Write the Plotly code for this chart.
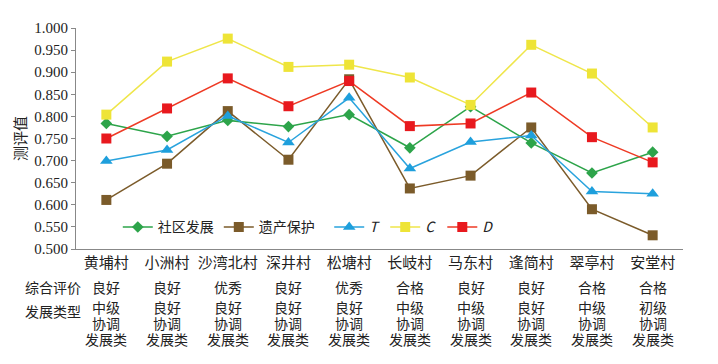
import plotly.graph_objects as go

villages = ["黄埔村", "小洲村", "沙湾北村", "深井村", "松塘村", "长岐村", "马东村", "逢简村", "翠亭村", "安堂村"]
community = [0.784, 0.755, 0.791, 0.777, 0.804, 0.729, 0.822, 0.740, 0.672, 0.719]
heritage = [0.611, 0.693, 0.812, 0.702, 0.884, 0.637, 0.666, 0.775, 0.590, 0.531]
T_vals = [0.699, 0.724, 0.801, 0.741, 0.842, 0.682, 0.742, 0.757, 0.630, 0.625]
C_vals = [0.804, 0.924, 0.976, 0.912, 0.917, 0.888, 0.826, 0.962, 0.897, 0.775]
D_vals = [0.750, 0.818, 0.886, 0.823, 0.880, 0.778, 0.784, 0.854, 0.753, 0.696]
overall = ["良好", "良好", "优秀", "良好", "优秀", "合格", "良好", "良好", "合格", "合格"]
dev_level = ["中级", "良好", "良好", "良好", "良好", "中级", "中级", "良好", "中级", "初级"]
dev_mid = ["协调"] * 10
dev_tail = ["发展类"] * 10
row_headers = ["综合评价", "发展类型"]
y_ticks = [0.5 + 0.05 * i for i in range(11)]

SERIF = "'Liberation Serif', 'Times New Roman', serif"
CJK = "'Noto Sans CJK SC', sans-serif"
TIGHT = "'Liberation Serif', 'Noto Sans CJK SC', serif"
NB = "\u00a0"

series = [
    ("社区发展", community, "#2DA44A", "#2DA44A", "diamond", 9),
    ("遗产保护" + NB * 3, heritage, "#7B5B2A", "#7B5B2A", "square", 10),
    ("<i>T</i>", T_vals, "#29A3DD", "#1E9FDC", "triangle-up", 11),
    ("<i>C</i>" + NB, C_vals, "#EFE64A", "#EEE437", "square", 10),
    ("<i>D</i>", D_vals, "#EE3A24", "#E8191E", "square", 10),
]

# page body has an 8px offset; plot area target: x 73..683, y 24..249
OFF = 8
PL, PR, PT, PB = 73, 683, 24, 249
W, H = 718 - OFF, 364 - OFF

fig = go.Figure()
for name, vals, lc, mc, sym, sz in series:
    fig.add_trace(go.Scatter(
        x=villages, y=vals, name=name, mode="lines+markers",
        line=dict(color=lc, width=1.5),
        marker=dict(symbol=sym, size=sz, color=mc, line=dict(width=0)),
        cliponaxis=False,
    ))

annotations = []
for v, t in zip(villages, overall):
    annotations.append(dict(
        x=v, xref="x", y=0, yref="paper", yshift=-(287 - PB),
        text=t, showarrow=False, yanchor="middle", xanchor="center",
        font=dict(family=CJK, size=14, color="#222"),
    ))
for py, labels in [(308, dev_level), (324, dev_mid), (340, dev_tail)]:
    for v, t in zip(villages, labels):
        annotations.append(dict(
            x=v, xref="x", y=0, yref="paper", yshift=-(py - PB),
            text=t, showarrow=False, yanchor="middle", xanchor="center",
            font=dict(family=TIGHT, size=14, color="#222"),
        ))
for py, t in zip([287, 311], row_headers):
    annotations.append(dict(
        x=(50 - PL) / (PR - PL), xref="paper", y=0, yref="paper",
        yshift=-(py - PB), text=t, showarrow=False,
        yanchor="middle", xanchor="center",
        font=dict(family=CJK, size=14, color="#222"),
    ))

fig.update_layout(
    width=W, height=H,
    margin=dict(l=PL - OFF, r=718 - PR, t=PT - OFF, b=364 - PB),
    paper_bgcolor="white", plot_bgcolor="white",
    showlegend=True,
    legend=dict(
        orientation="h", x=(115 - PL) / (PR - PL), y=(PB - 227) / (PB - PT),
        xanchor="left", yanchor="middle",
        bgcolor="rgba(0,0,0,0)", font=dict(family=CJK, size=14, color="#222"),
        itemwidth=30, tracegroupgap=0,
    ),
    xaxis=dict(
        type="category", showline=True, linecolor="#888", linewidth=1,
        ticks="", showgrid=False, zeroline=False,
        tickfont=dict(family=CJK, size=15, color="#222"),
        range=[-0.5, len(villages) - 0.5],
    ),
    yaxis=dict(
        range=[0.5, 1.0], tickvals=y_ticks, tickformat=".3f",
        showline=True, linecolor="#888", linewidth=1,
        ticks="outside", ticklen=4, tickcolor="#888",
        showgrid=False, zeroline=False,
        tickfont=dict(family=SERIF, size=15, color="#222"),
        title=dict(text="测评值", font=dict(family=CJK, size=15, color="#222"), standoff=4),
    ),
    annotations=annotations,
)

fig.write_html("out.html")
